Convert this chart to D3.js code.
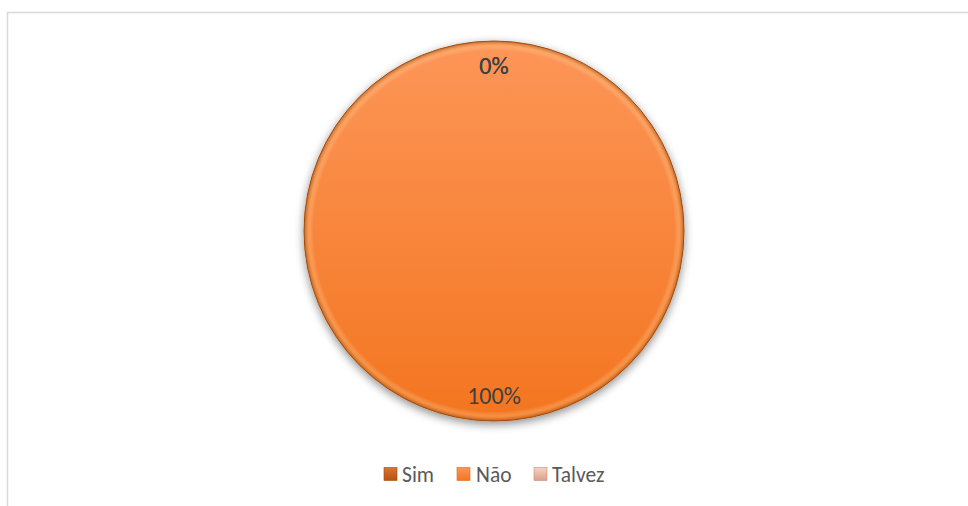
<!DOCTYPE html>
<html><head><meta charset="utf-8">
<script src="https://cdn.jsdelivr.net/npm/d3@7"></script>
<style>html,body{margin:0;padding:0;background:#fff;}svg{display:block;}</style>
</head><body>
<svg id="c" width="968" height="506"></svg>
<script>
const categories = ["Sim", "Não", "Talvez"];
const values = [0, 1, 0];
const labels = ["0%", "100%", "0%"];
const colorsTop = ["#d8733a", "#fd9658", "#f8d2c2"];
const colorsBottom = ["#b8520f", "#f37520", "#d9a08a"];

const svg = d3.select("#c");
const W = 968, H = 506;
const font = "Carlito, Lato, 'Open Sans', sans-serif";

svg.append("rect").attr("x", 7.5).attr("y", 12.5).attr("width", W + 10).attr("height", H + 10)
  .attr("fill", "#fff").attr("stroke", "#d9d9d9").attr("stroke-width", 1.5);

const defs = svg.append("defs");
const sh = defs.append("filter").attr("id", "shadow").attr("x", "-20%").attr("y", "-20%").attr("width", "140%").attr("height", "140%");
sh.append("feGaussianBlur").attr("in", "SourceAlpha").attr("stdDeviation", 5).attr("result", "b");
sh.append("feOffset").attr("in", "b").attr("dx", 0).attr("dy", 3).attr("result", "o");
sh.append("feComponentTransfer").attr("in", "o").attr("result", "o2")
  .append("feFuncA").attr("type", "linear").attr("slope", 0.45);
const m = sh.append("feMerge");
m.append("feMergeNode").attr("in", "o2");
m.append("feMergeNode").attr("in", "SourceGraphic");

categories.forEach((c, i) => {
  const g = defs.append("linearGradient").attr("id", "g" + i)
    .attr("gradientUnits", "userSpaceOnUse").attr("x1", 0).attr("y1", -190).attr("x2", 0).attr("y2", 190);
  g.append("stop").attr("offset", 0).attr("stop-color", colorsTop[i]);
  g.append("stop").attr("offset", 1).attr("stop-color", colorsBottom[i]);
  const lg = defs.append("linearGradient").attr("id", "lg" + i).attr("x1", 0).attr("y1", 0).attr("x2", 0).attr("y2", 1);
  lg.append("stop").attr("offset", 0).attr("stop-color", colorsTop[i]);
  lg.append("stop").attr("offset", 1).attr("stop-color", colorsBottom[i]);
});
const bev = defs.append("radialGradient").attr("id", "bevel").attr("gradientUnits", "userSpaceOnUse")
  .attr("cx", 0).attr("cy", 0).attr("r", 190);
bev.append("stop").attr("offset", 0.95).attr("stop-color", "#fff").attr("stop-opacity", 0);
bev.append("stop").attr("offset", 0.975).attr("stop-color", "#ffd08a").attr("stop-opacity", 0.3);
bev.append("stop").attr("offset", 1).attr("stop-color", "#8a3d0a").attr("stop-opacity", 0.5);

const cx = 494, cy = 231, R = 190;
const g = svg.append("g").attr("transform", `translate(${cx},${cy})`);
const pie = d3.pie().sort(null).value(d => d)(values);
const arc = d3.arc().innerRadius(0).outerRadius(R);
const labelArc = d3.arc().innerRadius(165).outerRadius(165);

g.append("g").attr("filter", "url(#shadow)").selectAll("path").data(pie).join("path")
  .attr("d", arc).attr("fill", (d, i) => `url(#g${i})`)
  .attr("stroke", d => d.value > 0 ? "#a9510f" : "none").attr("stroke-width", 1);
g.append("circle").attr("r", R).attr("fill", "url(#bevel)");

g.selectAll("text.lbl").data(pie).join("text").attr("class", "lbl")
  .attr("transform", d => {
    const [x, y] = labelArc.centroid(d);
    return `translate(${x},${y})`;
  })
  .attr("text-anchor", "middle").attr("dy", "0.35em")
  .attr("font-family", font).attr("font-size", 24).attr("fill", "#404040")
  .text((d, i) => labels[i]);

const legX = [384, 457, 534];
const legTX = [402, 476, 552];
const leg = svg.append("g");
categories.forEach((c, i) => {
  leg.append("rect").attr("x", legX[i]).attr("y", 467.5).attr("width", 13).attr("height", 13)
    .attr("fill", `url(#lg${i})`).attr("stroke", d3.color(colorsBottom[i]).darker(0.3)).attr("stroke-width", 0.6);
  leg.append("text").attr("x", legTX[i]).attr("y", 474).attr("dy", "0.35em")
    .attr("font-family", font).attr("font-size", 21.5).attr("fill", "#595959").text(c);
});
</script>
</body></html>
